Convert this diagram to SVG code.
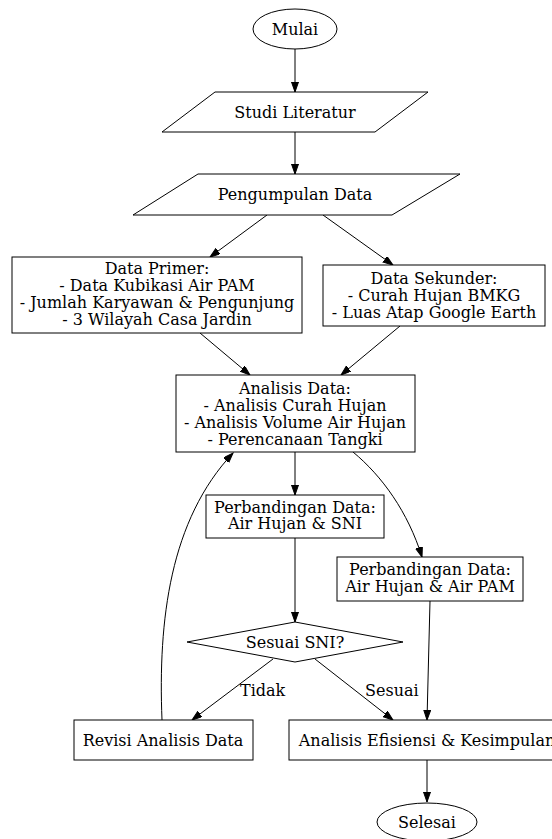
<svg xmlns="http://www.w3.org/2000/svg" width="552" height="839" viewBox="0 0 552 839">
<style>
text{font-family:"DejaVu Serif","Liberation Serif",serif;font-size:16px;fill:#000;text-anchor:middle}
.s{fill:#fff;stroke:#000;stroke-width:1}
.e{fill:none;stroke:#000;stroke-width:1}
.l{text-anchor:start}
</style>
<defs>
<marker id="a" markerUnits="userSpaceOnUse" markerWidth="11" markerHeight="8" refX="10" refY="3.5" orient="auto">
<path d="M0,0 L10,3.5 L0,7 z" fill="#000" stroke="#000" stroke-width="1"/>
</marker>
</defs>
<rect width="552" height="839" fill="#fff"/>
<g id="edges">
<path class="e" d="M295,49 L295,92" marker-end="url(#a)"/>
<path class="e" d="M295,132 L295,174" marker-end="url(#a)"/>
<path class="e" d="M267,215 L210,257" marker-end="url(#a)"/>
<path class="e" d="M323,215 L393,265" marker-end="url(#a)"/>
<path class="e" d="M200,333 L250,375" marker-end="url(#a)"/>
<path class="e" d="M400,326 L341,375" marker-end="url(#a)"/>
<path class="e" d="M295,452 L295,495" marker-end="url(#a)"/>
<path class="e" d="M353,452 C382,476 408,512 422,557" marker-end="url(#a)"/>
<path class="e" d="M295,538 L295,622" marker-end="url(#a)"/>
<path class="e" d="M430,601 L427,720" marker-end="url(#a)"/>
<path class="e" d="M273,659 L192,720" marker-end="url(#a)"/>
<path class="e" d="M315,659 L393,720" marker-end="url(#a)"/>
<path class="e" d="M162,720 C158,620 170,520 233,453" marker-end="url(#a)"/>
<path class="e" d="M427,760 L427,802" marker-end="url(#a)"/>
<text class="l" x="240" y="696">Tidak</text>
<text class="l" x="365" y="696">Sesuai</text>
</g>
<g id="mulai">
<ellipse class="s" cx="295" cy="29" rx="42" ry="20"/>
<text x="295" y="34.5">Mulai</text>
</g>
<g id="studi">
<polygon class="s" points="215,92 428,92 375,132 162,132"/>
<text x="295" y="117.5">Studi Literatur</text>
</g>
<g id="pengumpulan">
<polygon class="s" points="198,174 460,174 392,215 133,215"/>
<text x="295" y="200">Pengumpulan Data</text>
</g>
<g id="primer">
<rect class="s" x="12" y="257" width="290" height="76"/>
<text x="157" y="273.5">Data Primer:</text>
<text x="157" y="290.8">- Data Kubikasi Air PAM</text>
<text x="157" y="308.1">- Jumlah Karyawan &amp; Pengunjung</text>
<text x="157" y="325.4">- 3 Wilayah Casa Jardin</text>
</g>
<g id="sekunder">
<rect class="s" x="323" y="265" width="222" height="61"/>
<text x="434" y="283.5">Data Sekunder:</text>
<text x="434" y="300.5">- Curah Hujan BMKG</text>
<text x="434" y="317.5">- Luas Atap Google Earth</text>
</g>
<g id="analisis">
<rect class="s" x="176" y="375" width="239" height="77"/>
<text x="295" y="393.5">Analisis Data:</text>
<text x="295" y="410.5">- Analisis Curah Hujan</text>
<text x="295" y="427.5">- Analisis Volume Air Hujan</text>
<text x="295" y="444.5">- Perencanaan Tangki</text>
</g>
<g id="sni">
<rect class="s" x="206" y="495" width="178" height="43"/>
<text x="295" y="512.5">Perbandingan Data:</text>
<text x="295" y="529">Air Hujan &amp; SNI</text>
</g>
<g id="pam">
<rect class="s" x="337" y="557" width="186" height="44"/>
<text x="430" y="575">Perbandingan Data:</text>
<text x="430" y="592">Air Hujan &amp; Air PAM</text>
</g>
<g id="sesuai">
<polygon class="s" points="295,622 403,642 295,662 187,642"/>
<text x="295" y="647.5">Sesuai SNI?</text>
</g>
<g id="revisi">
<rect class="s" x="74" y="720" width="179" height="40"/>
<text x="163" y="745.5">Revisi Analisis Data</text>
</g>
<g id="efisiensi">
<rect class="s" x="289" y="720" width="276" height="40"/>
<text x="427" y="745.5">Analisis Efisiensi &amp; Kesimpulan</text>
</g>
<g id="selesai">
<ellipse class="s" cx="427" cy="822" rx="50" ry="19"/>
<text x="427" y="827.5">Selesai</text>
</g>
</svg>
